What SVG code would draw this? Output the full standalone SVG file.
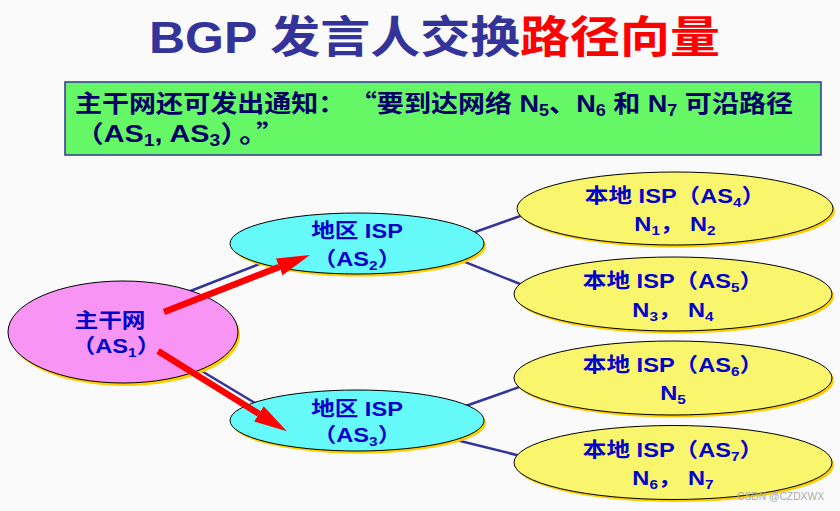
<svg xmlns="http://www.w3.org/2000/svg" width="840" height="511" viewBox="0 0 840 511">
<style>
.t{font-family:"Liberation Sans","Noto Sans CJK SC",sans-serif;font-weight:bold}
.cjk{font-family:"Noto Sans CJK SC",sans-serif}
.nt{font-size:20px;fill:#0000cc;text-anchor:middle;transform:scaleX(1.18);transform-box:fill-box;transform-origin:center}
.sh{fill:#ffcc00}
.node{stroke:#000;stroke-width:1}
.pink{fill:#f794f4}
.cyan{fill:#66f9f9}
.yel{fill:#f9f56d}
.link{stroke:#333399;stroke-width:2.5;fill:none}
.arrow{stroke:#ff0000;stroke-width:6.5;fill:none;marker-end:url(#ah)}
</style>
<defs>
<marker id="ah" viewBox="0 0 33 18" refX="0" refY="9" markerWidth="33" markerHeight="18" markerUnits="userSpaceOnUse" orient="auto">
<path d="M0,0 L33,9 L0,18 Z" fill="#ff0000"/>
</marker>
</defs>
<rect width="840" height="511" fill="#fafafa"/>

<g id="title">
<text class="t" x="149" y="53" font-size="44" textLength="571" lengthAdjust="spacingAndGlyphs"><tspan fill="#333399">BGP 发言人交换</tspan><tspan fill="#ff0000">路径向量</tspan></text>
</g>

<g id="note">
<rect x="65" y="82" width="756" height="73" fill="#66f766" stroke="#333399" stroke-width="1.5"/>
<text class="t" x="75" y="112" font-size="24" fill="#000066" textLength="718" lengthAdjust="spacingAndGlyphs">主干网还可发出通知：<tspan class="cjk" dx="16">“</tspan>要到达网络 N<tspan font-size="16" dy="4">5</tspan><tspan dy="-4">、N</tspan><tspan font-size="16" dy="4">6</tspan><tspan dy="-4"> 和 N</tspan><tspan font-size="16" dy="4">7</tspan><tspan dy="-4"> 可沿路径</tspan></text>
<text class="t" x="75" y="142" font-size="24" fill="#000066" textLength="210" lengthAdjust="spacingAndGlyphs">（AS<tspan font-size="16" dy="4">1</tspan><tspan dy="-4">, AS</tspan><tspan font-size="16" dy="4">3</tspan><tspan dy="-4">）</tspan><tspan dx="4">。</tspan><tspan class="cjk" dx="2">”</tspan></text>
</g>

<g id="connectors">
<line class="link" x1="170" y1="299" x2="290" y2="252"/>
<line class="link" x1="180" y1="358" x2="280" y2="418"/>
<line class="link" x1="450" y1="241" x2="540" y2="209"/>
<line class="link" x1="440" y1="252" x2="545" y2="294"/>
<line class="link" x1="440" y1="415" x2="545" y2="378"/>
<line class="link" x1="440" y1="436" x2="545" y2="462"/>
</g>

<g id="as1">
<ellipse class="sh" cx="125" cy="335" rx="115" ry="51"/>
<ellipse class="node pink" cx="123" cy="332" rx="115" ry="51"/>
<text class="t nt" x="110" y="328">主干网</text>
<text class="t nt" x="116" y="353">（AS<tspan font-size="13" dy="4">1</tspan><tspan dy="-4">）</tspan></text>
</g>

<g id="as2">
<ellipse class="sh" cx="359" cy="246" rx="127" ry="30.5"/>
<ellipse class="node cyan" cx="357" cy="243.5" rx="127" ry="30.5"/>
<text class="t nt" x="357" y="238">地区 ISP</text>
<text class="t nt" x="357" y="266">（AS<tspan font-size="13" dy="4">2</tspan><tspan dy="-4">）</tspan></text>
</g>

<g id="as3">
<ellipse class="sh" cx="359" cy="423" rx="127" ry="30.5"/>
<ellipse class="node cyan" cx="357" cy="420.5" rx="127" ry="30.5"/>
<text class="t nt" x="357" y="416">地区 ISP</text>
<text class="t nt" x="357" y="442">（AS<tspan font-size="13" dy="4">3</tspan><tspan dy="-4">）</tspan></text>
</g>

<g id="as4">
<ellipse class="sh" cx="677" cy="211" rx="158" ry="36.5"/>
<ellipse class="node yel" cx="675" cy="208.5" rx="158" ry="36.5"/>
<text class="t nt" x="675" y="203">本地 ISP（AS<tspan font-size="13" dy="4">4</tspan><tspan dy="-4">）</tspan></text>
<text class="t nt" x="675" y="231">N<tspan font-size="13" dy="4">1</tspan><tspan dy="-4">，  N</tspan><tspan font-size="13" dy="4">2</tspan></text>
</g>

<g id="as5">
<ellipse class="sh" cx="675" cy="296.5" rx="159" ry="37"/>
<ellipse class="node yel" cx="673" cy="294" rx="159" ry="37"/>
<text class="t nt" x="673" y="288">本地 ISP（AS<tspan font-size="13" dy="4">5</tspan><tspan dy="-4">）</tspan></text>
<text class="t nt" x="673" y="317">N<tspan font-size="13" dy="4">3</tspan><tspan dy="-4">，  N</tspan><tspan font-size="13" dy="4">4</tspan></text>
</g>

<g id="as6">
<ellipse class="sh" cx="675" cy="380.5" rx="159" ry="37"/>
<ellipse class="node yel" cx="673" cy="378" rx="159" ry="37"/>
<text class="t nt" x="673" y="372">本地 ISP（AS<tspan font-size="13" dy="4">6</tspan><tspan dy="-4">）</tspan></text>
<text class="t nt" x="673" y="400">N<tspan font-size="13" dy="4">5</tspan></text>
</g>

<g id="as7">
<ellipse class="sh" cx="675" cy="465" rx="159" ry="37"/>
<ellipse class="node yel" cx="673" cy="462.5" rx="159" ry="37"/>
<text class="t nt" x="673" y="457">本地 ISP（AS<tspan font-size="13" dy="4">7</tspan><tspan dy="-4">）</tspan></text>
<text class="t nt" x="673" y="485">N<tspan font-size="13" dy="4">6</tspan><tspan dy="-4">，  N</tspan><tspan font-size="13" dy="4">7</tspan></text>
</g>

<g id="arrows">
<line class="arrow" x1="164" y1="312" x2="279.2" y2="267"/>
<line class="arrow" x1="158" y1="351" x2="258.9" y2="413.8"/>
</g>

<text x="737" y="500" font-family="Liberation Sans, sans-serif" font-size="11" fill="#aaaaaa" textLength="87" lengthAdjust="spacingAndGlyphs">CSDN @CZDXWX</text>
</svg>
